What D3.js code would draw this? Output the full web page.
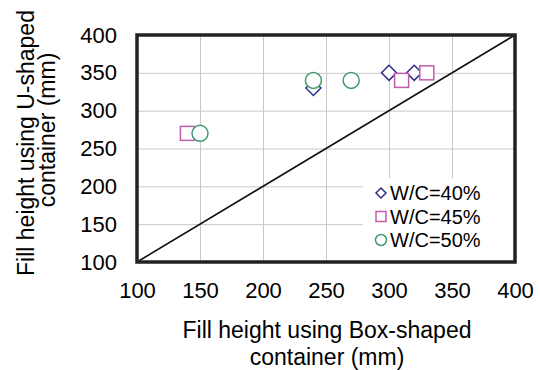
<!DOCTYPE html>
<html>
<head>
<meta charset="utf-8">
<script src="https://cdn.jsdelivr.net/npm/d3@7"></script>
<style>
  html, body { margin: 0; padding: 0; background: #fff; }
  svg { display: block; font-family: "Liberation Sans", Arial, sans-serif; }
</style>
</head>
<body>
<svg id="chart" width="540" height="370"></svg>
<script>
// ---- data ----
const xTicks = [100, 150, 200, 250, 300, 350, 400];
const yTicks = [100, 150, 200, 250, 300, 350, 400];
const seriesNames = ["W/C=40%", "W/C=45%", "W/C=50%"];
const wc40_box = [240, 300, 320];
const wc40_u   = [330, 350, 350];
const wc45_box = [140, 310, 330];
const wc45_u   = [270, 340, 350];
const wc50_box = [150, 240, 270];
const wc50_u   = [270, 340, 340];
const xTitle = ["Fill height using Box-shaped", "container (mm)"];
const yTitle = ["Fill height using U-shaped", "container (mm)"];

// ---- layout ----
const svg = d3.select("#chart");
const L = 137, R = 515, T = 35, B = 262;
const x = d3.scaleLinear().domain([100, 400]).range([L, R]);
const y = d3.scaleLinear().domain([100, 400]).range([B, T]);

const colors = ["#2E2D87", "#C45BAA", "#3F9B6E"];
const symbols = ["diamond", "square", "circle"];

// gridlines via axes
const gx = svg.append("g").attr("transform", `translate(0,${B})`)
  .call(d3.axisBottom(x).tickValues(xTicks).tickSize(-(B - T)).tickFormat(""));
gx.select(".domain").remove();
gx.selectAll("line").attr("stroke", "#c8c8c8").attr("stroke-width", 1);

const gy = svg.append("g").attr("transform", `translate(${L},0)`)
  .call(d3.axisLeft(y).tickValues(yTicks).tickSize(-(R - L)).tickFormat(""));
gy.select(".domain").remove();
gy.selectAll("line").attr("stroke", "#c8c8c8").attr("stroke-width", 1);

// tick labels via axes
const lx = svg.append("g").attr("transform", `translate(0,${B})`)
  .call(d3.axisBottom(x).tickValues(xTicks).tickSize(0).tickPadding(20).tickFormat(d3.format("d")));
lx.select(".domain").remove();
lx.selectAll("text").attr("font-size", 22).attr("fill", "#000")
  .attr("font-family", "Liberation Sans, Arial, sans-serif");

const ly = svg.append("g").attr("transform", `translate(${L},0)`)
  .call(d3.axisLeft(y).tickValues(yTicks).tickSize(0).tickPadding(20).tickFormat(d3.format("d")));
ly.select(".domain").remove();
ly.selectAll("text").attr("font-size", 22).attr("fill", "#000")
  .attr("font-family", "Liberation Sans, Arial, sans-serif");

// legend background (hides gridlines)
const legX = 363, legY = 178;
svg.append("rect").attr("x", legX).attr("y", legY).attr("width", 152).attr("height", 84)
  .attr("fill", "#fff");

// diagonal 1:1 line
svg.append("line")
  .attr("x1", x(100)).attr("y1", y(100)).attr("x2", x(400)).attr("y2", y(400))
  .attr("stroke", "#111").attr("stroke-width", 1.6);

// markers
function drawMarker(g, kind, cx, cy, s, color) {
  if (kind === "diamond") {
    g.append("path").attr("d", `M${cx},${cy - s} L${cx + s},${cy} L${cx},${cy + s} L${cx - s},${cy} Z`)
      .attr("fill", "#fff").attr("stroke", color).attr("stroke-width", 1.5);
  } else if (kind === "square") {
    g.append("rect").attr("x", cx - s).attr("y", cy - s).attr("width", 2 * s).attr("height", 2 * s)
      .attr("fill", "#fff").attr("stroke", color).attr("stroke-width", 1.5);
  } else {
    g.append("circle").attr("cx", cx).attr("cy", cy).attr("r", s)
      .attr("fill", "#fff").attr("stroke", color).attr("stroke-width", 1.5);
  }
}
const seriesData = [
  [wc40_box, wc40_u], [wc45_box, wc45_u], [wc50_box, wc50_u]
];
const mg = svg.append("g");
const sizes = [7.5, 7, 8];
seriesData.forEach((sd, i) => {
  sd[0].forEach((xv, j) => {
    drawMarker(mg, symbols[i], x(xv), y(sd[1][j]), sizes[i], colors[i]);
  });
});

// border
svg.append("rect").attr("x", L).attr("y", T).attr("width", R - L).attr("height", B - T)
  .attr("fill", "none").attr("stroke", "#222").attr("stroke-width", 3.5);

// legend
const legSizes = [5, 5, 5.5];
const rowY = [193, 216.5, 240];
seriesNames.forEach((name, i) => {
  drawMarker(svg, symbols[i], 381, rowY[i], legSizes[i], colors[i]);
  svg.append("text").attr("x", 390).attr("y", rowY[i] + 7)
    .attr("font-size", 20).attr("fill", "#000").text(name);
});

// axis titles
svg.append("text").attr("x", 327).attr("y", 337.5).attr("text-anchor", "middle")
  .attr("font-size", 23).attr("fill", "#000").text(xTitle[0]);
svg.append("text").attr("x", 327).attr("y", 364.5).attr("text-anchor", "middle")
  .attr("font-size", 23).attr("fill", "#000").text(xTitle[1]);

svg.append("text").attr("transform", "translate(33.5,143) rotate(-90)").attr("text-anchor", "middle")
  .attr("font-size", 23).attr("fill", "#000").text(yTitle[0]);
svg.append("text").attr("transform", "translate(54.5,130) rotate(-90)").attr("text-anchor", "middle")
  .attr("font-size", 23).attr("fill", "#000").text(yTitle[1]);
</script>
</body>
</html>
